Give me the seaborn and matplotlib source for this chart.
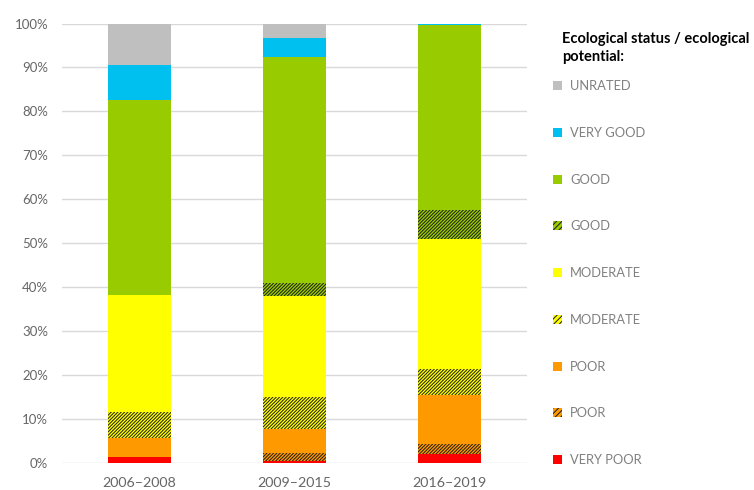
import numpy as np
import pandas as pd
import matplotlib
matplotlib.use("Agg")
import matplotlib.pyplot as plt
from matplotlib.patches import Patch
import seaborn as sns

periods = ["2006–2008", "2009–2015", "2016–2019"]
very_poor = [1.5, 0.5, 2.0]
poor_h = [0.0, 1.8, 2.4]
poor = [4.2, 5.4, 11.1]
moderate_h = [5.9, 7.4, 5.9]
moderate = [26.7, 23.0, 29.7]
good_h = [0.0, 2.8, 6.6]
good = [44.4, 51.5, 41.9]
very_good = [7.8, 4.3, 0.4]
unrated = [9.5, 3.3, 0.0]

legend_labels = ["UNRATED", "VERY GOOD", "GOOD", "GOOD", "MODERATE",
                 "MODERATE", "POOR", "POOR", "VERY POOR"]
legend_title = "Ecological status / ecological\npotential:"

sns.set_theme(style="white")
plt.rcParams["font.family"] = ["Lato", "DejaVu Sans"]
plt.rcParams["hatch.linewidth"] = 0.7

HATCH = "//////////"

# layers bottom -> top: (values, color, hatched)
layers = [
    (very_poor, "#FF0000", False),
    (poor_h, "#FF9900", True),
    (poor, "#FF9900", False),
    (moderate_h, "#FFFF00", True),
    (moderate, "#FFFF00", False),
    (good_h, "#99CC00", True),
    (good, "#99CC00", False),
    (very_good, "#00C0F0", False),
    (unrated, "#BFBFBF", False),
]

fig = plt.figure(figsize=(7.54, 4.9), dpi=100)
ax = fig.add_axes([0.0822, 0.0545, 0.617, 0.8975])

cum = np.zeros(len(periods))
cums = []
for vals, col, h in layers:
    cum = cum + np.array(vals)
    cums.append(cum.copy())

# draw from top (largest cumulative) down so lower layers overlay
for (vals, col, h), c in reversed(list(zip(layers, cums))):
    df = pd.DataFrame({"period": periods, "value": c})
    sns.barplot(data=df, x="period", y="value", color=col, width=0.405,
                saturation=1, ax=ax, linewidth=0,
                edgecolor="#1a1a1a" if h else col,
                hatch=HATCH if h else None, zorder=2)

ax.set_ylim(0, 100)
ax.set_xlim(-0.5, 2.5)
ax.set_yticks(np.arange(0, 101, 10))
ax.set_yticklabels([f"{v}%" for v in range(0, 101, 10)])
ax.yaxis.grid(True, color="#D9D9D9", linewidth=1)
ax.set_axisbelow(True)
for s in ax.spines.values():
    s.set_visible(False)
ax.set_xlabel("")
ax.set_ylabel("")
ax.tick_params(axis="both", length=0, labelcolor="#666666")
ax.tick_params(axis="y", pad=10, labelsize=9.5)
ax.tick_params(axis="x", pad=10, labelsize=10.3)

handles = []
for (vals, col, h) in reversed(layers):
    handles.append(Patch(facecolor=col, edgecolor="#1a1a1a" if h else col,
                         linewidth=0, hatch="//////" if h else None))
leg = ax.legend(handles, legend_labels,
                loc="upper left", bbox_to_anchor=(0.727, 0.847),
                bbox_transform=fig.transFigure, frameon=False,
                fontsize=9.3, handlelength=0.7, handleheight=0.7,
                handletextpad=0.6, labelspacing=2.69, borderaxespad=0)
for t in leg.get_texts():
    t.set_color("#808080")

fig.text(0.746, 0.9345, legend_title, ha="left", va="top", fontsize=10.5,
         fontweight="bold", color="#000000", linespacing=1.34)

fig.savefig("out.png", dpi=100)
